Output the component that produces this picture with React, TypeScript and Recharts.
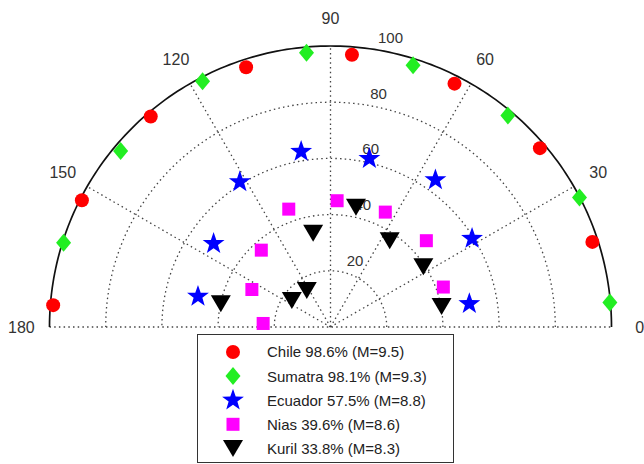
import React from 'react'
import { ScatterChart, Scatter, XAxis, YAxis, ReferenceLine, Legend } from 'recharts'

// polar values: angle in degrees, radius 0..100
const chileAngles = [18, 40.5, 63, 85.5, 108, 130.5, 153, 175.5]
const chileR = [98, 98, 97.2, 97.2, 97.2, 98.5, 99.3, 99]

const sumatraAngles = [5, 27.5, 50, 72.5, 95, 117.5, 140, 162.5]
const sumatraR = [99.8, 99.9, 98.2, 97.7, 98, 98.6, 97.5, 99.6]

const ecuadorAngles = [9.5, 32, 54.5, 77, 99.5, 122, 144.5, 167]
const ecuadorR = [50.1, 59.4, 64.3, 61.5, 63.3, 60.9, 51.1, 48.4]

const niasAngles = [19.5, 42, 64.5, 87, 109.5, 132, 154.5, 177]
const niasR = [42.6, 45.9, 45.3, 45, 44.5, 36.8, 31, 24]

const kurilAngles = [10.5, 33, 55.5, 78, 100.5, 123, 145.5, 168]
const kurilR = [40.2, 39.4, 37.2, 43.6, 33.9, 15.5, 16.7, 39.9]

const angleTicks = [0, 30, 60, 90, 120, 150, 180]
const radialTicks = [20, 40, 60, 80, 100]
const gridRings = [20, 40, 60, 80]
const spokeAngles = [30, 60, 90, 120, 150]

const legendNames = [
  'Chile 98.6% (M=9.5)',
  'Sumatra 98.1% (M=9.3)',
  'Ecuador 57.5% (M=8.8)',
  'Nias 39.6% (M=8.6)',
  'Kuril 33.8% (M=8.3)',
]
const legendKinds = ['circle', 'diamond', 'star', 'square', 'triangle']

const FONT = '"Liberation Sans", Arial, Helvetica, sans-serif'
const GRID = '#444'
const DOTS = '1.5 3.2'

const rad = (d: number) => (d * Math.PI) / 180
const toXY = (theta: number, r: number) => ({ x: r * Math.cos(rad(theta)), y: r * Math.sin(rad(theta)) })
const polar = (angles: number[], radii: number[]) => angles.map((a, i) => toXY(a, radii[i]))
const arc = (r: number) => Array.from({ length: 181 }, (_, i) => toXY(i, r))

function Marker({ kind, cx, cy }: { kind: string; cx: number; cy: number }) {
  if (kind === 'circle') return <circle cx={cx} cy={cy} r={7} fill="#ff0000" />
  if (kind === 'diamond')
    return <path d={`M${cx},${cy - 9}L${cx + 7.5},${cy}L${cx},${cy + 9}L${cx - 7.5},${cy}Z`} fill="#22ee22" />
  if (kind === 'square') return <rect x={cx - 6.5} y={cy - 6.5} width={13} height={13} fill="#ff00ff" />
  if (kind === 'triangle')
    return <path d={`M${cx - 10},${cy - 8.5}L${cx + 10},${cy - 8.5}L${cx},${cy + 8.5}Z`} fill="#000" />
  // star
  const pts: string[] = []
  for (let i = 0; i < 10; i++) {
    const r = i % 2 === 0 ? 11.5 : 4.6
    const a = rad(-90 + i * 36)
    pts.push(`${cx + r * Math.cos(a)},${cy + r * Math.sin(a)}`)
  }
  return <polygon points={pts.join(' ')} fill="#0000ff" />
}

const shapeFor = (kind: string) => (p: any) => <Marker kind={kind} cx={p.cx} cy={p.cy} />
const noShape = () => <g />

const angleLabelData = angleTicks.map((a) => ({ ...toXY(a, 110), label: String(a) }))
const radialLabelData = radialTicks.map((t) => ({ ...toXY(82, t + 1), label: String(t) }))

const renderLegend = () => (
  <svg width={257} height={129} style={{ display: 'block' }}>
    <rect x={0.5} y={0.5} width={256} height={128} fill="#fff" stroke="#333" />
    {legendNames.map((name, i) => {
      const cy = 18 + i * 24.1
      return (
        <g key={name}>
          <Marker kind={legendKinds[i]} cx={36} cy={cy} />
          <text x={70} y={cy} dy="0.36em" fontSize={15} fill="#222" fontFamily={FONT}>
            {name}
          </text>
        </g>
      )
    })}
  </svg>
)

export default function App() {
  return (
    <div style={{ position: 'absolute', left: 0, top: 0 }}>
      <ScatterChart
        width={644}
        height={464}
        margin={{ top: 12.28, right: 4.4, bottom: 137, left: 7.35 }}
      >
        <XAxis type="number" dataKey="x" domain={[-115, 110]} hide />
        <YAxis type="number" dataKey="y" domain={[0, 112]} hide />

        <ReferenceLine
          segment={[{ x: -100, y: 0 }, { x: 100, y: 0 }]}
          stroke={GRID}
          strokeWidth={1.3}
          strokeDasharray={DOTS}
          ifOverflow="visible"
        />
        {spokeAngles.map((a) => (
          <ReferenceLine
            key={a}
            segment={[{ x: 0, y: 0 }, toXY(a, 100)]}
            stroke={GRID}
            strokeWidth={1.3}
            strokeDasharray={DOTS}
            ifOverflow="visible"
          />
        ))}
        {gridRings.map((r) => (
          <Scatter
            key={r}
            data={arc(r)}
            shape={noShape}
            line={{ stroke: GRID, strokeDasharray: DOTS, strokeWidth: 1.3 }}
            isAnimationActive={false}
          />
        ))}
        <Scatter
          data={arc(100)}
          shape={noShape}
          line={{ stroke: '#111', strokeWidth: 1.7 }}
          isAnimationActive={false}
        />

        <Scatter
          data={radialLabelData}
          isAnimationActive={false}
          shape={(p: any) => (
            <text x={p.cx + 8} y={p.cy - 3} fontSize={15} fill="#333" fontFamily={FONT}>
              {p.payload.label}
            </text>
          )}
        />
        <Scatter
          data={angleLabelData}
          isAnimationActive={false}
          shape={(p: any) => (
            <text x={p.cx} y={p.cy} dy="0.36em" textAnchor="middle" fontSize={16} fill="#333" fontFamily={FONT}>
              {p.payload.label}
            </text>
          )}
        />

        <Scatter name="Chile" data={polar(chileAngles, chileR)} shape={shapeFor('circle')} isAnimationActive={false} />
        <Scatter name="Sumatra" data={polar(sumatraAngles, sumatraR)} shape={shapeFor('diamond')} isAnimationActive={false} />
        <Scatter name="Ecuador" data={polar(ecuadorAngles, ecuadorR)} shape={shapeFor('star')} isAnimationActive={false} />
        <Scatter name="Nias" data={polar(niasAngles, niasR)} shape={shapeFor('square')} isAnimationActive={false} />
        <Scatter name="Kuril" data={polar(kurilAngles, kurilR)} shape={shapeFor('triangle')} isAnimationActive={false} />

        <Legend
          layout="vertical"
          align="center"
          verticalAlign="middle"
          wrapperStyle={{ left: 197, top: 334, width: 257, height: 129 }}
          content={renderLegend}
        />
      </ScatterChart>
    </div>
  )
}
